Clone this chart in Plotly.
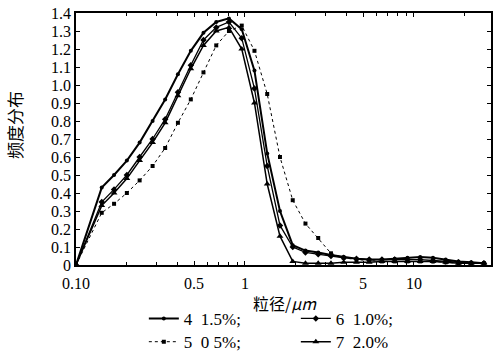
import plotly.graph_objects as go

# particle size (um), log-spaced measurement bins
x_um = [0.100, 0.142, 0.168, 0.200, 0.238, 0.284, 0.337, 0.401, 0.478, 0.568,
        0.676, 0.804, 0.957, 1.138, 1.354, 1.611, 1.917, 2.280, 2.713, 3.228,
        3.840, 4.569, 5.436, 6.467, 7.694, 9.153, 10.89, 12.96, 15.41, 18.34,
        21.82, 25.96]

s4 = [0, 0.43, 0.50, 0.58, 0.68, 0.80, 0.92, 1.06, 1.19, 1.29, 1.35, 1.37,
      1.31, 1.08, 0.62, 0.30, 0.11, 0.08, 0.07, 0.055, 0.045, 0.035, 0.03,
      0.03, 0.035, 0.04, 0.045, 0.04, 0.03, 0.02, 0.015, 0.01]
s5 = [0, 0.29, 0.34, 0.40, 0.47, 0.55, 0.65, 0.79, 0.92, 1.07, 1.22, 1.30,
      1.33, 1.19, 0.95, 0.60, 0.36, 0.23, 0.15, 0.065, 0.04, 0.03, 0.025,
      0.02, 0.02, 0.02, 0.02, 0.02, 0.015, 0.01, 0.01, 0.01]
s6 = [0, 0.35, 0.42, 0.50, 0.60, 0.70, 0.81, 0.96, 1.11, 1.25, 1.32, 1.35,
      1.26, 0.98, 0.55, 0.22, 0.10, 0.07, 0.06, 0.05, 0.04, 0.035, 0.03,
      0.03, 0.03, 0.03, 0.03, 0.025, 0.02, 0.015, 0.01, 0.01]
s7 = [0, 0.33, 0.40, 0.48, 0.58, 0.68, 0.79, 0.94, 1.09, 1.22, 1.30, 1.32,
      1.20, 0.90, 0.45, 0.16, 0.02, 0.01, 0.01, 0.01, 0.015, 0.015, 0.015,
      0.02, 0.02, 0.02, 0.02, 0.02, 0.015, 0.01, 0.01, 0.01]

series_names = ["4  1.5%;", "6  1.0%;", "5  0 5%;", "7  2.0%"]

y_ticks = [0, 0.1, 0.2, 0.3, 0.4, 0.5, 0.6, 0.7, 0.8, 0.9, 1.0, 1.1, 1.2, 1.3, 1.4]
y_tick_text = ["0", "0.1", "0.2", "0.3", "0.4", "0.5", "0.6", "0.7", "0.8",
               "0.9", "1.0", "1.1", "1.2", "1.3", "1.4"]
x_ticks = [0.1, 0.5, 1, 5, 10]
x_tick_text = ["0.10", "0.5", "1", "5", "10"]
x_minor = [0.2, 0.3, 0.4, 0.6, 0.7, 0.8, 0.9, 2, 3, 4, 6, 7, 8, 9, 20]

FONT = "Liberation Serif"
CJK_FONT = "Noto Sans CJK SC"

fig = go.Figure()
fig.add_trace(go.Scatter(x=x_um, y=s4, mode="lines+markers", name=series_names[0],
                         line=dict(color="black", width=2),
                         marker=dict(symbol="circle", size=4, color="black"),
                         legend="legend"))
fig.add_trace(go.Scatter(x=x_um, y=s6, mode="lines+markers", name=series_names[1],
                         line=dict(color="black", width=1.3),
                         marker=dict(symbol="diamond", size=5, color="black"),
                         legend="legend"))
fig.add_trace(go.Scatter(x=x_um, y=s5, mode="lines+markers", name=series_names[2],
                         line=dict(color="black", width=1, dash="dot"),
                         marker=dict(symbol="square", size=4, color="black"),
                         legend="legend2"))
fig.add_trace(go.Scatter(x=x_um, y=s7, mode="lines+markers", name=series_names[3],
                         line=dict(color="black", width=1.5),
                         marker=dict(symbol="triangle-up", size=6, color="black"),
                         legend="legend2"))

axis_common = dict(showline=True, linecolor="black", linewidth=1.5, mirror="ticks",
                   ticks="inside", ticklen=4, tickcolor="black", showgrid=False,
                   zeroline=False)

legend_common = dict(orientation="h", xanchor="left", yanchor="middle",
                     xref="container", yref="container",
                     entrywidth=107, entrywidthmode="pixels", itemwidth=30,
                     font=dict(family=FONT, size=17, color="black"),
                     bgcolor="rgba(0,0,0,0)", tracegroupgap=0)

fig.update_layout(
    width=496, height=352,
    margin=dict(l=76, r=5, t=13, b=87, autoexpand=False),
    paper_bgcolor="white", plot_bgcolor="white",
    font=dict(family=FONT, color="black"),
    xaxis=dict(type="log", range=[-1, 1.456], tickmode="array", tickvals=x_ticks,
               ticktext=x_tick_text, ticklabelstandoff=3,
               tickfont=dict(family=FONT, size=16, color="black"),
               minor=dict(tickmode="array", tickvals=x_minor, ticks="inside",
                          ticklen=3, tickcolor="black"),
               **axis_common),
    yaxis=dict(range=[0, 1.4], tickmode="array", tickvals=y_ticks,
               ticktext=y_tick_text,
               tickfont=dict(family=FONT, size=16, color="black"),
               **axis_common),
    legend=dict(x=0.290, y=0.094, **legend_common),
    legend2=dict(x=0.290, y=0.028, **legend_common),
    showlegend=True,
)

fig.add_annotation(text="频度分布", textangle=-90, xref="paper", yref="paper",
                   x=-0.147, y=0.556, xanchor="center", yanchor="middle",
                   showarrow=False, font=dict(family=CJK_FONT, size=17, color="black"))
fig.add_annotation(text="粒径/<i>μm</i>", xref="paper", yref="paper",
                   x=0.504, y=-0.152, xanchor="center", yanchor="middle",
                   showarrow=False, font=dict(family=CJK_FONT, size=16, color="black"))

fig.write_html("out.html")
